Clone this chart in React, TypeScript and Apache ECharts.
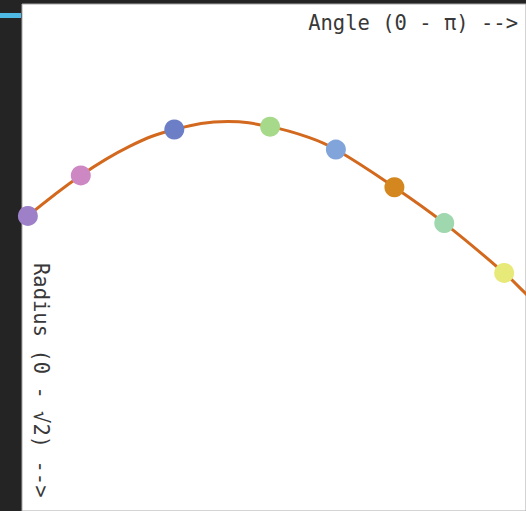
import React, { useEffect, useRef } from "react";
import * as echarts from "echarts";

// Curve: angle (degrees, 0-180 across the visible plot) and radius (0-√2, growing downward)
const curveAngle = [2.1, 21.0, 38.4, 54.4, 73.6, 88.6, 102.4, 112.1, 133.0, 150.8, 172.2, 179.3, 184.0];
const curveRadius = [0.591, 0.478, 0.397, 0.35, 0.328, 0.342, 0.372, 0.406, 0.511, 0.611, 0.75, 0.803, 0.84];

// Coloured sample points
const pointAngle = [2.1, 21.0, 54.4, 88.6, 112.1, 133.0, 150.8, 172.2];
const pointRadius = [0.591, 0.478, 0.35, 0.342, 0.406, 0.511, 0.611, 0.75];
const pointColors = ["#9d80c8", "#cd88c3", "#6b7ec6", "#a7d98b", "#81a4da", "#d4871f", "#9fd7af", "#e7e978"];

const xLabel = "Angle (0 - π) -->";
const yLabel = "Radius (0 - √2) -->";

export default function App() {
  const ref = useRef<HTMLDivElement>(null);
  useEffect(() => {
    if (!ref.current) return;
    const chart = echarts.init(ref.current, undefined, { renderer: "svg" });
    const labelFont = '20.5px "DejaVu Sans Mono", monospace';
    chart.setOption({
      animation: false,
      backgroundColor: "#242424",
      grid: {
        left: 22,
        top: 4,
        right: -2,
        bottom: -2,
        show: true,
        backgroundColor: "#ffffff",
        borderColor: "#a8a8a8",
        borderWidth: 1,
      },
      xAxis: {
        type: "value",
        min: 0,
        max: 180,
        show: false,
      },
      yAxis: {
        type: "value",
        min: 0,
        max: 1.414,
        inverse: true,
        show: false,
      },
      series: [
        {
          type: "line",
          data: curveAngle.map((a, i) => [a, curveRadius[i]]),
          smooth: 0.4,
          showSymbol: false,
          symbol: "none",
          lineStyle: { color: "#d2691e", width: 3 },
          clip: true,
          z: 2,
        },
        {
          type: "scatter",
          data: pointAngle.map((a, i) => ({
            value: [a, pointRadius[i]],
            itemStyle: { color: pointColors[i], opacity: 1 },
          })),
          symbolSize: 20,
          itemStyle: { opacity: 1 },
          clip: true,
          z: 3,
        },
      ],
      graphic: [
        {
          type: "rect",
          shape: { x: 0, y: 13, width: 21, height: 5 },
          style: { fill: "#4fb9e6" },
        },
        {
          type: "text",
          x: 518,
          y: 23,
          style: {
            text: xLabel,
            font: labelFont,
            fill: "#383838",
            align: "right",
            verticalAlign: "middle",
            textAlign: "right",
            textVerticalAlign: "middle",
          },
          z: 10,
        },
        {
          type: "text",
          x: 41,
          y: 263,
          rotation: -Math.PI / 2,
          style: {
            text: yLabel,
            font: labelFont,
            fill: "#383838",
            align: "left",
            verticalAlign: "middle",
            textAlign: "left",
            textVerticalAlign: "middle",
          },
          z: 10,
        },
      ],
    });
    return () => chart.dispose();
  }, []);
  return (
    <div
      ref={ref}
      style={{ position: "fixed", left: 0, top: 0, width: 526, height: 511 }}
    />
  );
}
